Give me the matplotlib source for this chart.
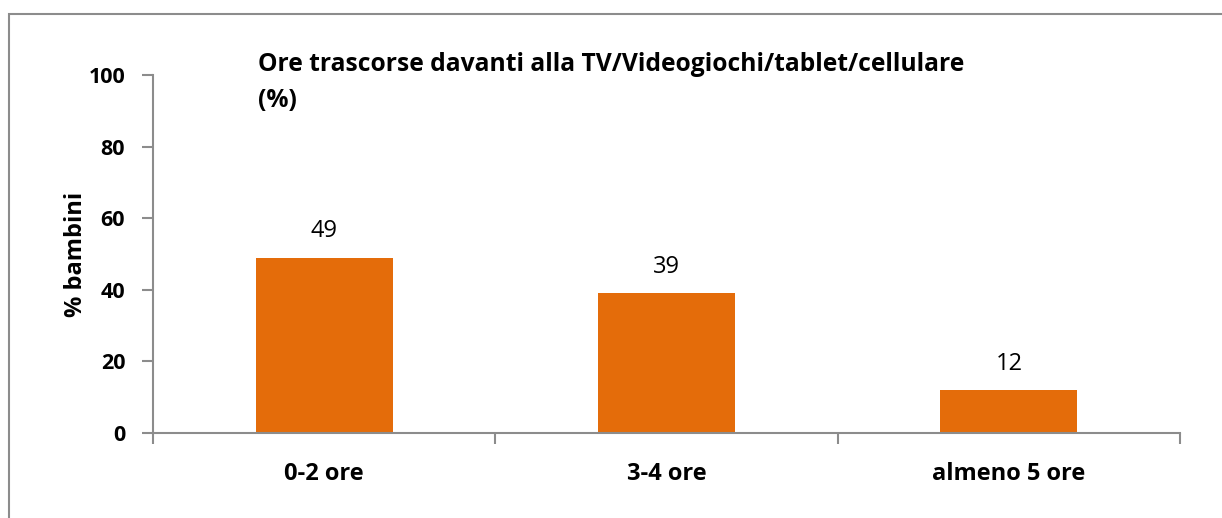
import matplotlib.pyplot as plt
from matplotlib.patches import Rectangle
import numpy as np

# data
categorie = ['0-2 ore', '3-4 ore', 'almeno 5 ore']
percentuali = [49, 39, 12]
titolo = 'Ore trascorse davanti alla TV/Videogiochi/tablet/cellulare\n(%)'

plt.rcParams['font.family'] = ['Open Sans', 'DejaVu Sans']
grigio = '#8c8c8c'

fig = plt.figure(figsize=(12.22, 5.18), dpi=100)
ax = fig.add_axes([153/1222, 1-433/518, (1180-153)/1222, (433-75)/518])

x = np.arange(len(categorie))
ax.bar(x, percentuali, width=0.4, color='#e46c0a')
for xi, v in zip(x, percentuali):
    ax.text(xi, v + 4, str(v), ha='center', va='bottom', fontsize=17)

ax.set_xlim(-0.5, len(categorie) - 0.5)
ax.set_ylim(0, 100)
ax.set_yticks([0, 20, 40, 60, 80, 100])
ax.set_xticks(x)
ax.set_xticklabels(categorie, fontsize=17, fontweight='bold')
ax.set_xticks(np.arange(len(categorie) + 1) - 0.5, minor=True)
ax.tick_params(axis='x', which='major', length=0, pad=21)
ax.tick_params(axis='x', which='minor', length=8, color=grigio, width=1.5, direction='out')
ax.tick_params(axis='y', length=8, color=grigio, width=1.5, pad=12)
for lab in ax.get_yticklabels():
    lab.set_fontsize(15.5)
    lab.set_fontweight('bold')
ax.set_ylabel('% bambini', fontsize=17, fontweight='bold', labelpad=0)

for s in ['top', 'right']:
    ax.spines[s].set_visible(False)
for s in ['left', 'bottom']:
    ax.spines[s].set_color(grigio)
    ax.spines[s].set_linewidth(1.5)

fig.text(258/1222, 1-52/518, titolo, ha='left', va='top', fontsize=17.7,
         fontweight='bold', linespacing=1.6)

# cornice del grafico
fig.add_artist(Rectangle((9/1222, -0.1), 1.2, (518-14)/518 + 0.1,
                         transform=fig.transFigure, fill=False,
                         edgecolor=grigio, linewidth=1.5))

plt.savefig('out.png', dpi=100)
